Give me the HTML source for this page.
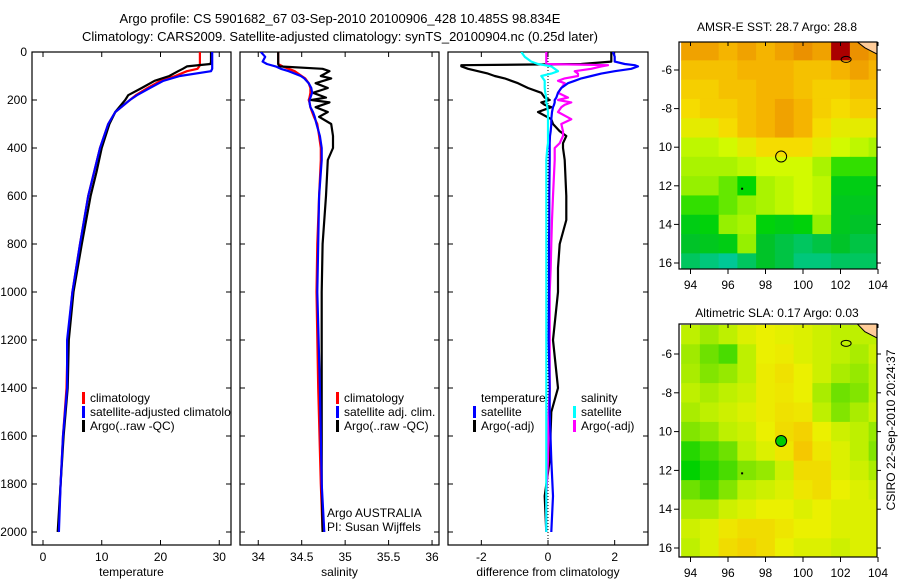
<!DOCTYPE html>
<html><head><meta charset="utf-8"><style>
body{margin:0;background:#fff;}
svg{display:block;font-family:"Liberation Sans",sans-serif;}
</style></head><body>
<svg id="fig" width="900" height="580" viewBox="0 0 900 580">
<text x="340" y="23" font-size="13" text-anchor="middle">Argo profile: CS 5901682_67 03-Sep-2010 20100906_428 10.485S 98.834E</text>
<text x="340" y="41" font-size="13" text-anchor="middle">Climatology: CARS2009. Satellite-adjusted climatology: synTS_20100904.nc (0.25d later)</text>
<text x="777" y="31" font-size="12" text-anchor="middle">AMSR-E SST: 28.7 Argo: 28.8</text>
<text x="777" y="317" font-size="12" text-anchor="middle">Altimetric SLA: 0.17 Argo: 0.03</text>
<text transform="translate(895,430) rotate(-90)" font-size="12" text-anchor="middle">CSIRO 22-Sep-2010 20:24:37</text>
</svg>
<script>
// ---------- data ----------
const depthT = [0,20,40,50,60,70,80,100,120,150,180,200,250,300,400,500,600,800,1000,1200,1400,1600,1800,2000];
const tempClim = [26.7,26.7,26.7,26.7,26.6,26.3,24.5,22.5,20.0,17.8,15.8,14.8,12.3,11.1,9.7,8.7,7.7,6.3,5.0,4.2,4.0,3.4,3.0,2.6];
const tempSat  = [28.8,28.8,28.8,28.8,28.8,28.8,28.6,23.3,20.5,18.2,16.0,14.8,12.3,11.1,9.7,8.7,7.7,6.3,5.0,4.1,4.1,3.4,3.0,2.7];
const tempArgo = [28.6,28.6,28.6,28.5,24.5,23.8,23.0,21.5,19.0,16.8,14.5,14.0,12.3,11.3,10.0,9.1,8.1,6.6,5.2,4.4,4.2,3.5,3.0,2.5];

const depthS = [0,20,40,50,60,70,80,100,110,130,150,170,190,200,210,230,250,270,300,350,400,450,600,800,1000,1400,1800,2000];
const salClim = [34.23,34.23,34.23,34.23,34.28,34.35,34.42,34.50,34.54,34.58,34.60,34.60,34.59,34.58,34.59,34.60,34.62,34.64,34.68,34.70,34.72,34.72,34.70,34.68,34.67,34.69,34.72,34.74];
const salSat  = [34.03,34.08,34.05,34.10,34.20,34.26,34.35,34.49,34.53,34.58,34.61,34.62,34.60,34.59,34.59,34.60,34.63,34.65,34.67,34.71,34.73,34.73,34.70,34.69,34.68,34.71,34.73,34.76];
const salArgo = [34.23,34.23,34.23,34.23,34.24,34.74,34.82,34.72,34.84,34.66,34.80,34.63,34.78,34.61,34.82,34.66,34.80,34.70,34.84,34.86,34.86,34.80,34.78,34.74,34.73,34.73,34.73,34.74];

const depthD = [0,20,40,50,55,60,70,80,90,100,110,120,130,150,170,190,200,210,220,230,250,280,300,330,350,380,400,450,600,700,800,900,1000,1200,1400,1500,1700,1850,2000];
const diffTArgo = [1.9,1.9,1.9,1.0,-2.6,-2.6,-2.4,-2.1,-1.8,-1.6,-1.3,-1.1,-0.9,-0.6,-0.2,-0.1,0.05,-0.2,-0.1,0.1,-0.3,0.1,0.15,0.35,0.55,0.45,0.45,0.5,0.55,0.55,0.35,0.3,0.3,0.15,0.3,0.1,0.05,-0.1,-0.05];
const diffTSat  = [1.95,2.0,2.0,2.3,2.6,2.7,2.5,2.0,1.6,1.3,1.0,0.8,0.6,0.4,0.3,0.25,0.2,0.2,0.18,0.15,0.12,0.1,0.1,0.08,0.06,0.05,0.05,0.05,0.04,0.04,0.03,0.03,0.03,0.02,0.05,0.05,0.1,0.15,0.1];
const diffSArgo = [-0.05,-0.05,-0.05,-0.05,1.8,1.6,1.3,0.8,0.9,0.9,0.5,0.3,0.5,0.4,0.3,0.6,0.3,0.7,0.5,0.4,0.3,0.7,0.4,0.45,0.45,0.35,0.2,0.2,0.15,0.12,0.1,0.08,0.05,0.05,0.05,0.02,0.0,-0.05,-0.05];
const diffSSat  = [-0.8,-0.7,-0.5,-0.3,-0.1,0.1,0.2,0.3,0.1,-0.2,-0.15,-0.1,-0.1,-0.1,-0.08,-0.05,-0.05,-0.05,-0.03,-0.02,0.0,0.0,0.0,0.0,0.0,0.0,-0.02,-0.05,-0.05,-0.05,-0.05,-0.05,-0.05,-0.05,-0.05,-0.05,-0.05,-0.05,-0.05];

const mapLats = [-5,-6,-7,-8,-9,-10,-11,-12,-13,-14,-15,-16];
const mapLons = [94,95,96,97,98,99,100,101,102,103,104];
const sstGrid = [
 [29.1,29.1,29.0,29.1,29.0,29.1,29.2,29.1,29.6,29.2,29.1],
 [28.9,28.9,28.9,29.0,29.0,29.0,28.9,28.9,29.0,29.1,29.0],
 [28.8,28.8,28.9,28.9,29.0,29.0,28.9,28.8,28.8,28.9,28.9],
 [28.7,28.8,28.8,28.9,29.0,29.1,29.0,28.8,28.7,28.8,28.8],
 [28.6,28.6,28.7,28.9,29.0,29.1,29.0,28.7,28.6,28.6,28.6],
 [28.4,28.4,28.5,28.6,28.7,28.7,28.7,28.6,28.5,28.4,28.3],
 [28.3,28.3,28.3,28.4,28.5,28.5,28.5,28.3,28.0,28.0,28.0],
 [28.2,28.2,28.1,27.9,28.3,28.4,28.5,28.4,27.7,27.7,27.7],
 [28.0,28.0,28.1,28.2,28.3,28.4,28.5,28.4,27.6,27.6,27.6],
 [27.7,27.8,28.2,28.3,27.8,27.7,27.8,28.2,27.6,27.5,27.5],
 [27.5,27.6,27.7,28.2,27.5,27.4,27.3,27.4,27.5,27.4,27.4],
 [27.3,27.2,27.1,27.3,27.5,27.4,27.2,27.2,27.3,27.3,27.3]];
const slaGrid = [
 [0.08,0.05,0.08,0.12,0.14,0.13,0.12,0.10,0.08,0.08,0.08],
 [0.05,0.00,-0.02,0.08,0.14,0.15,0.12,0.10,0.08,0.06,0.10],
 [0.06,0.02,0.04,0.08,0.15,0.17,0.14,0.10,0.06,0.04,0.08],
 [0.08,0.06,0.08,0.10,0.15,0.16,0.14,0.06,0.00,0.02,0.08],
 [0.06,0.08,0.10,0.12,0.15,0.17,0.16,0.08,0.02,0.06,0.10],
 [0.02,0.04,0.08,0.10,0.14,0.18,0.20,0.14,0.10,0.08,0.04],
 [-0.04,-0.02,0.00,0.08,0.12,0.16,0.22,0.16,0.12,0.08,0.02],
 [-0.06,-0.04,-0.02,0.02,0.04,0.10,0.18,0.18,0.12,0.10,0.06],
 [0.00,-0.02,0.02,0.08,0.10,0.12,0.16,0.18,0.14,0.12,0.10],
 [0.06,0.06,0.10,0.12,0.14,0.14,0.12,0.14,0.12,0.12,0.12],
 [0.10,0.12,0.16,0.18,0.18,0.16,0.14,0.14,0.12,0.12,0.12],
 [0.08,0.12,0.18,0.20,0.18,0.14,0.12,0.12,0.10,0.12,0.12]];
const argoLon = 98.834, argoLat = -10.485;

// ---------- helpers ----------
const NS = "http://www.w3.org/2000/svg";
const svg = document.getElementById('fig');
function mk(tag, attrs, parent){ const e=document.createElementNS(NS,tag); for(const k in attrs) e.setAttribute(k,attrs[k]); (parent||svg).appendChild(e); return e; }
const yD = d => 52 + d*0.24;

function profilePanel(key, x0, x1, vmin, vmax, xticks, xlab){
  const xs = v => x0 + (v - vmin)/(vmax - vmin)*(x1 - x0);
  const g = mk('g',{});
  
  
  const cp = mk('clipPath',{id:'clip-'+key}, g);
  mk('rect',{x:x0,y:52,width:x1-x0,height:493}, cp);
  const fr = mk('rect',{x:x0,y:52,width:x1-x0,height:493,fill:'none',stroke:'#000','stroke-width':1.2}, g);
  
  
  for(const t of xticks){
    const x = xs(t);
    mk('line',{x1:x,x2:x,y1:545,y2:540,stroke:'#000'},g);
    mk('line',{x1:x,x2:x,y1:52,y2:57,stroke:'#000'},g);
    const tl = mk('text',{x:x,y:561,'font-size':12,'text-anchor':'middle'},g);
    tl.textContent = t;
    
    
  }
  for(let d=0; d<=2000; d+=200){
    mk('line',{x1:x0,x2:x0+5,y1:yD(d),y2:yD(d),stroke:'#000'},g);
    mk('line',{x1:x1,x2:x1-5,y1:yD(d),y2:yD(d),stroke:'#000'},g);
  }
  const xl = mk('text',{x:(x0+x1)/2,y:576,'font-size':12,'text-anchor':'middle'},g);
  xl.textContent = xlab;
  
  
  return {xs, g, clip:'url(#clip-'+key+')'};
}
function line(p, vals, depths, color, name, w){
  const pts = vals.map((v,i)=> p.xs(v).toFixed(1)+','+yD(depths[i]).toFixed(1)).join(' ');
  const pl = mk('polyline',{points:pts,fill:'none',stroke:color,'stroke-width':w||2.2,'clip-path':p.clip,'stroke-linejoin':'round'},p.g);
  
  
}
function legend(p, x, y, color, text, name){
  if(color) mk('rect',{x:x,y:y-10,width:3,height:12,fill:color},p.g);
  const t = mk('text',{x:x+8,y:y,'font-size':12,'clip-path':p.clip},p.g);
  t.textContent = text;
  
  
}

for(let d=0; d<=2000; d+=200){
  const t = mk('text',{x:27,y:yD(d)+4,'font-size':12,'text-anchor':'end'});
  t.textContent = d;
  
  
}

const p1 = profilePanel('temperature', 32, 231, -1.87, 32.0, [0,10,20,30], 'temperature');
line(p1, tempClim, depthT, '#f00', 'temp-climatology-line');
line(p1, tempArgo, depthT, '#000', 'temp-argo-line');
line(p1, tempSat, depthT, '#00f', 'temp-satellite-line');
legend(p1, 82, 402, '#f00', 'climatology', 'legend-climatology');
legend(p1, 82, 416, '#00f', 'satellite-adjusted climatology', 'legend-satellite-adjusted');
legend(p1, 82, 430, '#000', 'Argo(..raw -QC)', 'legend-argo');

const p2 = profilePanel('salinity', 240, 439, 33.79, 36.08, [34,34.5,35,35.5,36], 'salinity');
line(p2, salClim, depthS, '#f00', 'sal-climatology-line');
line(p2, salArgo, depthS, '#000', 'sal-argo-line');
line(p2, salSat, depthS, '#00f', 'sal-satellite-line');
legend(p2, 336, 402, '#f00', 'climatology', 'legend-sal-climatology');
legend(p2, 336, 416, '#00f', 'satellite adj. clim.', 'legend-sal-satellite');
legend(p2, 336, 430, '#000', 'Argo(..raw -QC)', 'legend-sal-argo');
legend(p2, 319, 517, null, 'Argo AUSTRALIA', 'argo-australia-label');
legend(p2, 319, 531, null, 'PI: Susan Wijffels', 'pi-label');

const p3 = profilePanel('difference', 448, 648, -3.0, 3.0, [-2,0,2], 'difference from climatology');
mk('line',{x1:p3.xs(0),x2:p3.xs(0),y1:52,y2:545,stroke:'#000','stroke-dasharray':'1,2','stroke-width':1},p3.g);
line(p3, diffTArgo, depthD, '#000', 'diff-temp-argo-line');
line(p3, diffSArgo, depthD, '#f0f', 'diff-sal-argo-line');
line(p3, diffTSat, depthD, '#00f', 'diff-temp-satellite-line');
line(p3, diffSSat, depthD, '#0ff', 'diff-sal-satellite-line');
legend(p3, 473, 402, null, 'temperature', 'legend-diff-temperature');
legend(p3, 473, 416, '#00f', 'satellite', 'legend-diff-temp-satellite');
legend(p3, 473, 430, '#000', 'Argo(-adj)', 'legend-diff-temp-argo');
legend(p3, 573, 402, null, 'salinity', 'legend-diff-salinity');
legend(p3, 573, 416, '#0ff', 'satellite', 'legend-diff-sal-satellite');
legend(p3, 573, 430, '#f0f', 'Argo(-adj)', 'legend-diff-sal-argo');

// ---------- maps ----------
function rgb(a){ return 'rgb('+a.map(Math.round).join(',')+')'; }
function lerpColor(stops, v){
  if(v<=stops[0][0]) return rgb(stops[0][1]);
  for(let i=1;i<stops.length;i++){
    if(v<=stops[i][0]){
      const a=stops[i-1], b=stops[i], t=(v-a[0])/(b[0]-a[0]);
      return rgb(a[1].map((c,k)=>c+(b[1][k]-c)*t));
    }
  }
  return rgb(stops[stops.length-1][1]);
}
const sstStops = [[27.1,[0,200,150]],[27.5,[0,195,40]],[27.9,[0,215,0]],[28.2,[150,240,0]],[28.5,[210,250,0]],[28.7,[245,220,0]],[29.0,[245,180,0]],[29.2,[235,145,0]],[29.6,[170,0,0]]];
const slaStops = [[-0.06,[0,210,0]],[0.0,[110,225,0]],[0.08,[190,240,0]],[0.14,[235,240,0]],[0.22,[245,200,0]]];

function mapPanel(key, top, bottom, latTop, latScale, grid, stops, filledDot){
  const x0=679, x1=877;
  const lx = lon => 690.5 + (lon-94)*18.75;
  const ly = lat => latTop + (-6 - lat)*latScale;
  const g = mk('g',{});
  
  
  const cp = mk('clipPath',{id:'clip-'+key},g);
  mk('rect',{x:x0,y:top,width:x1-x0,height:bottom-top},cp);
  const cells = mk('g',{'clip-path':'url(#clip-'+key+')'},g);
  mapLats.forEach((lat,i)=>{
    mapLons.forEach((lon,j)=>{
      const v = grid[i][j];
      const r = mk('rect',{x:lx(lon-0.5),y:ly(lat+0.5),width:19.2,height:latScale+0.4,fill:lerpColor(stops, v)},cells);
      
      
    });
  });
  mk('path',{d:`M${lx(102.9)},${top} L${lx(103.3)},${ly(-4.85)} L${lx(104)},${ly(-5.2)} L${x1},${top} Z`,fill:'#ffcc99',stroke:'#000','stroke-width':1},cells);
  mk('ellipse',{cx:lx(102.3),cy:ly(-5.45),rx:5,ry:3,fill:'none',stroke:'#000','stroke-width':1},cells);
  mk('rect',{x:lx(96.7),y:ly(-12.1),width:2,height:2,fill:'#000'},cells);
  const c = mk('circle',{cx:lx(argoLon),cy:ly(argoLat),r:5.5,fill:filledDot?'#00cc00':'none',stroke:'#000','stroke-width':1},g);
  
  
  mk('rect',{x:x0,y:top,width:x1-x0,height:bottom-top,fill:'none',stroke:'#000','stroke-width':1.2},g);
  for(let lon=94; lon<=104; lon+=2){
    const x=lx(lon);
    mk('line',{x1:x,x2:x,y1:bottom,y2:bottom+5,stroke:'#000'},g);
    mk('line',{x1:x,x2:x,y1:top,y2:top+4,stroke:'#000'},g);
    const t = mk('text',{x:x,y:bottom+20,'font-size':12,'text-anchor':'middle'},g);
    t.textContent = lon;
    
    
  }
  for(let lat=-6; lat>=-16; lat-=2){
    const y=ly(lat);
    mk('line',{x1:x0-5,x2:x0,y1:y,y2:y,stroke:'#000'},g);
    mk('line',{x1:x1,x2:x1+4,y1:y,y2:y,stroke:'#000'},g);
    const t = mk('text',{x:x0-7,y:y+4,'font-size':12,'text-anchor':'end'},g);
    t.textContent = lat===-6 || lat===-8 ? lat : -lat;
    
    
  }
}
mapPanel('sst', 42, 269, 70, 19.3, sstGrid, sstStops, false);
mapPanel('sla', 324, 557, 354, 19.4, slaGrid, slaStops, true);
</script>
</body></html>
